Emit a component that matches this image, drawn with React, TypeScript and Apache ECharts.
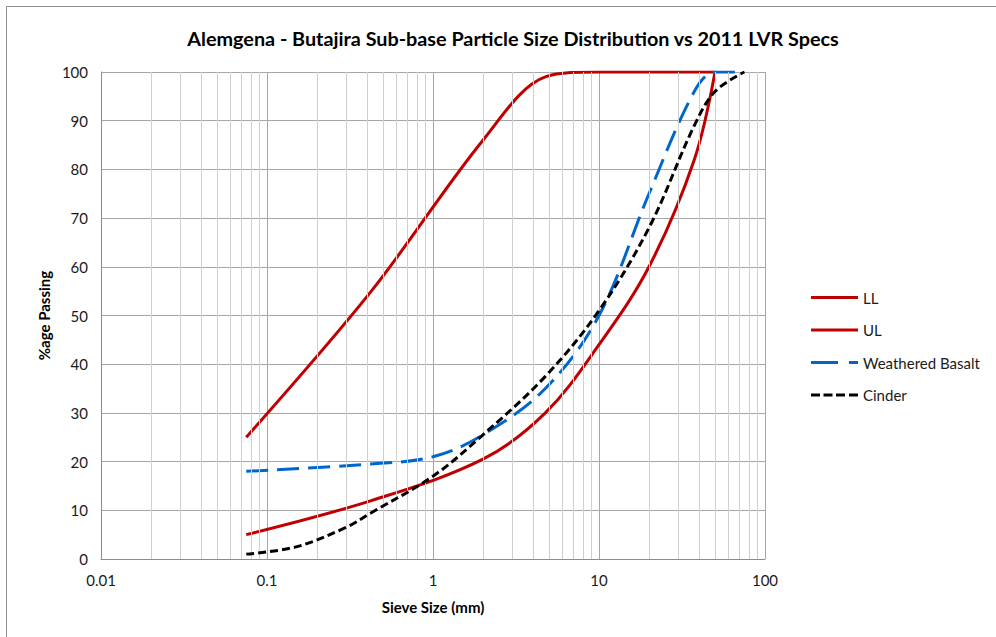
import React, { useEffect, useRef } from "react";
import * as echarts from "echarts";

const titleText = "Alemgena - Butajira Sub-base Particle Size Distribution vs 2011 LVR Specs";
const seriesNames = ["LL", "UL", "Weathered Basalt", "Cinder"];

const llSizes = [0.075, 0.425, 2, 4.75, 10, 20, 37.5, 50];
const llValues = [5, 12, 20.5, 30, 44, 60, 82, 100];

const ulSizes = [0.075, 0.425, 2, 4.75, 10, 20, 37.5, 50];
const ulValues = [25, 55, 86, 99, 100, 100, 100, 100];

const basaltSizes = [0.075, 0.425, 1, 2, 4.75, 10, 20, 37.5, 50, 75];
const basaltValues = [18, 19.5, 21, 25.5, 35, 50, 75, 96, 100, 100];

const cinderSizes = [0.075, 0.15, 0.3, 0.425, 1, 2, 4.75, 10, 20, 37.5, 50, 75];
const cinderValues = [1, 2.5, 6.5, 9.5, 17, 25.5, 37.5, 51, 68, 89, 96, 100];

const minorGridSizes = [
  0.02, 0.03, 0.04, 0.05, 0.06, 0.07, 0.08, 0.09,
  0.2, 0.3, 0.4, 0.5, 0.6, 0.7, 0.8, 0.9,
  2, 3, 4, 5, 6, 7, 8, 9,
  20, 30, 40, 50, 60, 70, 80, 90,
];

const yTicks = { min: 0, max: 100, interval: 10 };
const xRange = { min: 0.01, max: 100 };

const zip = (xs: number[], ys: number[]) => xs.map((x, i) => [x, ys[i]]);

const FONT = "Lato, 'Open Sans', sans-serif";

const ICON_SOLID = "path://M0,0H47V3H0Z";
const ICON_BLUE = "path://M0,0H27V3H0Z M38,0H47V3H38Z";
const ICON_BLACK = "path://M0,0H9V3H0Z M12.5,0H21.5V3H12.5Z M25,0H34V3H25Z M38,0H47V3H38Z";

export default function App() {
  const ref = useRef<HTMLDivElement>(null);
  useEffect(() => {
    if (!ref.current) return;
    const chart = echarts.init(ref.current, undefined, { renderer: "svg" });
    const red = "#C00000";
    const blue = "#0066CC";
    const legendIcons = [ICON_SOLID, ICON_SOLID, ICON_BLUE, ICON_BLACK];
    chart.setOption({
      animation: false,
      backgroundColor: "#ffffff",
      textStyle: { fontFamily: FONT },
      title: {
        text: titleText,
        left: 508,
        textAlign: "center",
        top: 23,
        textStyle: { fontFamily: FONT, fontSize: 19.8, fontWeight: "bold", color: "#000" },
      },
      graphic: [
        {
          type: "polyline",
          shape: { points: [[6.5, 640], [6.5, 6.5], [1000, 6.5]] },
          style: { stroke: "#8c8c8c", lineWidth: 1, fill: "none" },
          silent: true,
        },
      ],
      legend: {
        orient: "vertical",
        left: 806,
        top: 285,
        itemWidth: 47,
        itemHeight: 3,
        itemGap: 17.5,
        data: seriesNames.map((n, i) => ({ name: n, icon: legendIcons[i] })),
        textStyle: { fontFamily: FONT, fontSize: 15, color: "#1a1a1a" },
      },
      grid: { left: 101, right: 231, top: 72, bottom: 78, containLabel: false },
      xAxis: {
        type: "log",
        logBase: 10,
        min: xRange.min,
        max: xRange.max,
        name: "Sieve Size (mm)",
        nameLocation: "middle",
        nameGap: 40,
        nameTextStyle: { fontFamily: FONT, fontSize: 15, fontWeight: "bold", color: "#000" },
        axisLine: { show: true, lineStyle: { color: "#8c8c8c", width: 1 } },
        axisTick: { show: false },
        axisLabel: {
          fontFamily: FONT,
          fontSize: 15,
          color: "#1a1a1a",
          margin: 13,
          formatter: (v: number) => String(parseFloat(v.toPrecision(6))),
        },
        splitLine: { show: true, lineStyle: { color: "#a6a6a6", width: 1 } },
      },
      yAxis: {
        type: "value",
        min: yTicks.min,
        max: yTicks.max,
        interval: yTicks.interval,
        name: "%age Passing",
        nameLocation: "middle",
        nameGap: 48,
        nameTextStyle: { fontFamily: FONT, fontSize: 15, fontWeight: "bold", color: "#000" },
        axisLine: { show: true, lineStyle: { color: "#8c8c8c", width: 1 } },
        axisTick: { show: false },
        axisLabel: { fontFamily: FONT, fontSize: 15, color: "#1a1a1a", margin: 13 },
        splitLine: { show: true, lineStyle: { color: "#a6a6a6", width: 1 } },
      },
      series: [
        {
          name: "minor-grid",
          type: "line",
          data: [],
          silent: true,
          z: 1,
          markLine: {
            silent: true,
            symbol: ["none", "none"],
            label: { show: false },
            lineStyle: { color: "#cfcfcf", width: 1, type: "solid" },
            emphasis: { disabled: true },
            data: minorGridSizes.map((v) => ({ xAxis: v })),
          },
        },
        {
          name: "LL",
          type: "line",
          data: zip(llSizes, llValues),
          smooth: 0.35,
          showSymbol: false,
          symbol: "none",
          z: 3,
          lineStyle: { color: red, width: 3, type: "solid" },
          itemStyle: { color: red },
        },
        {
          name: "UL",
          type: "line",
          data: zip(ulSizes, ulValues),
          smooth: 0.33,
          showSymbol: false,
          symbol: "none",
          z: 3,
          lineStyle: { color: red, width: 3, type: "solid" },
          itemStyle: { color: red },
        },
        {
          name: "Weathered Basalt",
          type: "line",
          data: zip(basaltSizes, basaltValues),
          smooth: 0.35,
          showSymbol: false,
          symbol: "none",
          z: 4,
          lineStyle: { color: blue, width: 3, type: [22, 9] },
          itemStyle: { color: blue },
        },
        {
          name: "Cinder",
          type: "line",
          data: zip(cinderSizes, cinderValues),
          smooth: 0.35,
          showSymbol: false,
          symbol: "none",
          z: 5,
          lineStyle: { color: "#000000", width: 3, type: [8, 4] },
          itemStyle: { color: "#000000" },
        },
      ],
    });
    return () => chart.dispose();
  }, []);
  return (
    <div
      ref={ref}
      style={{ position: "absolute", left: 0, top: 0, width: 996, height: 637 }}
    />
  );
}
